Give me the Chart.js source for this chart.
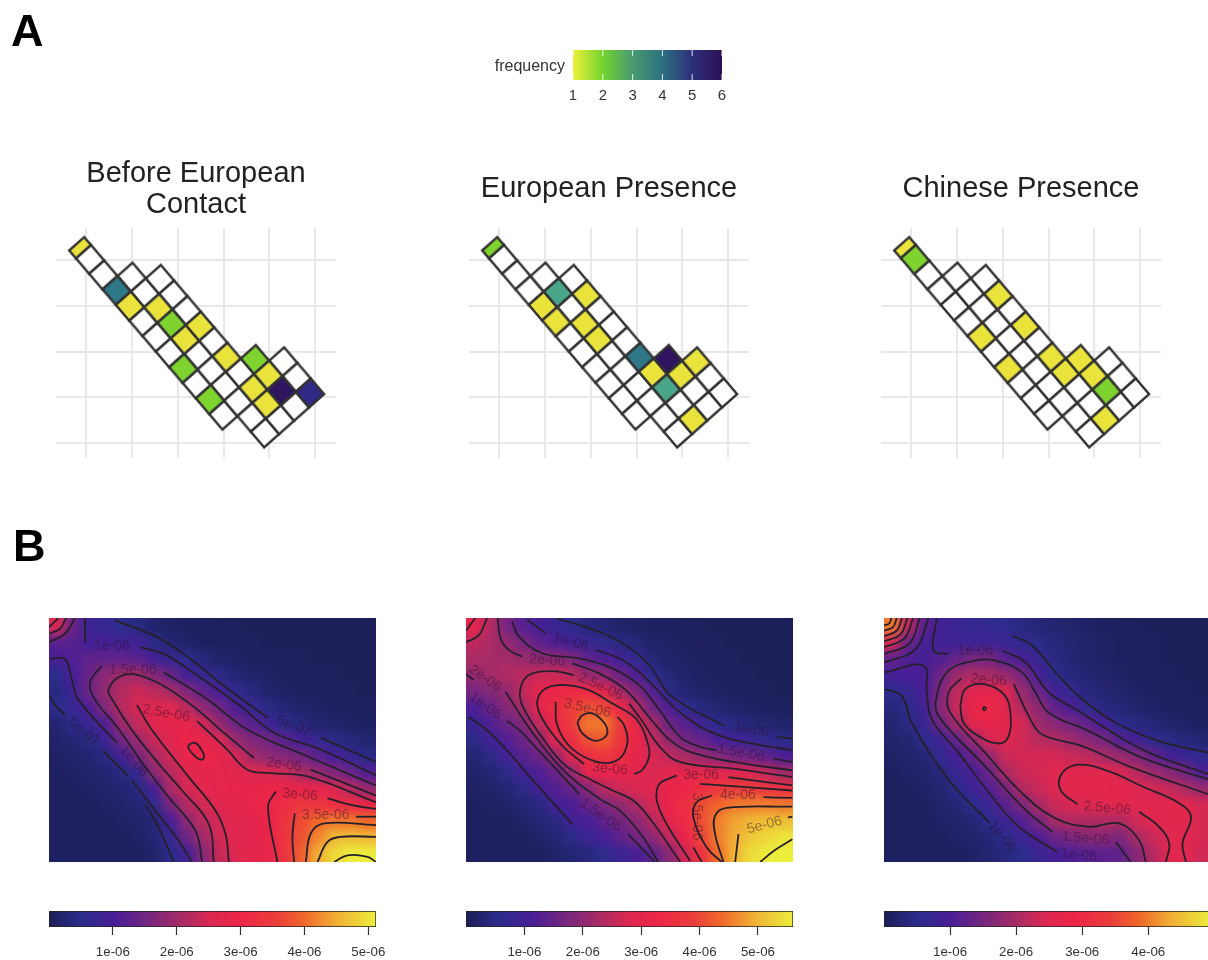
<!DOCTYPE html>
<html><head><meta charset="utf-8">
<script src="https://cdn.jsdelivr.net/npm/chart.js@4"></script>
<style>
html,body{margin:0;padding:0;background:#fff;width:1208px;height:960px;overflow:hidden}
canvas{position:absolute;display:block}
.soft{filter:blur(.5px)}
.letter{position:absolute;font:bold 45px "Liberation Sans";color:#000;line-height:45px;filter:blur(.4px)}
.heat{position:absolute;overflow:hidden;width:327px;height:244px;outline:1px solid #222;outline-offset:-1px}
</style></head><body>
<div class="letter" style="left:11px;top:8px">A</div>
<div class="letter" style="left:13px;top:523px">B</div>
<script>
// ---------- Panel A data ----------
const gridXTicks=[0,1,2,3,4,5];
const gridYTicks=[0,1,2,3,4];
const panelTitles=[["Before European","Contact"],"European Presence","Chinese Presence"];
const bandIndex=[0,1,2,3,4];
const bandStart=[-1,2,3,9,10];
const bandEnd=[10,12,12,12,12];
const freqTicks=[1,2,3,4,5,6];
const freqBefore=[[-1,0,1],[2,0,4],[3,0,1],[4,1,1],[5,1,2],[6,1,1],[6,2,1],[8,2,1],[7,0,2],[9,0,2],[9,3,2],[10,3,1],[10,2,1],[11,2,1],[11,3,6],[12,4,5]];
const freqEuropean=[[-1,0,2],[3,1,3],[4,2,1],[3,0,1],[4,0,1],[5,1,1],[6,1,1],[8,2,4],[9,3,6],[10,4,1],[9,2,1],[10,3,1],[10,2,3],[12,2,1]];
const freqChinese=[[-1,0,1],[0,0,2],[4,2,1],[6,2,1],[5,0,1],[7,0,1],[8,2,1],[9,2,1],[9,3,1],[10,3,1],[11,3,2],[12,2,1]];
// ---------- Panel B data (density, units of 1e-7) ----------
const heatBefore=[
[26,14,8,7,5,4,2,1.5,1,1,.8,.6,.5,.5,.5,.5,.5,.5,.5,.5],
[12,12,9.5,9.5,9,9,4.5,3,2,1,1,.8,.6,.5,.5,.5,.5,.5,.5,.5],
[10,11,13,13,13,12,9.5,7,5,3.5,2,1.5,1,1,.8,.6,.5,.5,.5,.5],
[5,10,14,18,20,20,17,14,9.5,7,4.5,3,2,1.5,1,1,.8,.6,.5,.5],
[4,8.5,14.5,18.5,22,24,22.5,20.5,16.5,13,10,6,4,2,1.5,1,1,.8,.6,.5],
[5,7,11,17,22,25,26,26,22.5,18,14.5,10.5,7,4.5,3,2,1.5,1,1,.8],
[2.5,5,7.5,11,19.5,23,26.5,28,28,24.5,18.5,14.5,12,8.5,5,3.5,2.5,2,1.5,1],
[2,3,4,8,15,19.5,23.5,26.5,29.5,28,25.5,19,16.5,15,12,9,6.5,4.5,3.5,2.5],
[1.5,2,2.5,4.5,9,15.5,20.5,24.5,29,29.5,28,25,20,18,17,15.5,12.5,10,7.5,4.5],
[1,1.5,2,2.5,4,7,18,22,26,27.5,28,27,25.5,25.5,24,21,19,16.5,14,11],
[1,1,1.5,2,2.5,4,10,21,24.5,27,28,28.5,28.5,29,29,28.5,27.5,25.5,22.5,19],
[1,1,1,1.5,2,3,6,15.5,21.5,24.5,26.5,27.5,28.5,30,32,34,33.5,32,31.5,29],
[1,1,1,1,1.5,2,3,10,18,22.5,25,26.5,27.5,29,33,37,40,41,41,40],
[1,1,1,1,1,1.5,3,6.5,14.5,20,24.5,26.5,27.5,29,33,37.5,42,46,46.5,46],
[1,1,1,1,1,1,2,5,9,17,23.5,26,27.5,28.5,33,39,45,49,51,51]];
const heatEuropean=[
[31,24,17,13,10.5,8,6,4,3,2,1.5,1,1,.8,.6,.5,.5,.5,.5,.5],
[25,23,20.5,17.5,14,12,10,8,6,4.5,3.5,2,1.5,1,.8,.6,.5,.5,.5,.5],
[23,22.5,22,21,20,19.5,18,14,12,10,6.5,3.5,2,1.5,1,.8,.6,.5,.5,.5],
[20.5,22,23.5,24.5,26,26,24.5,21,20,15.5,12,5.5,3.5,2,1.5,1,.8,.6,.5,.5],
[17,18.5,20,25,30,32,34,34,29,23,18,12.5,5,3,2,1.5,1,.8,.6,.5],
[11.5,15,19,22,30,35,39,41,40,33,24,16,12,6,4,3,2,1.5,1,.8],
[8.5,12,15.5,18,25,33,38,45,45,38,30,23,15.5,13,9,5.5,4.5,3.5,3,2],
[5,9.5,12,15.5,19.5,29,35,41,42,37,32,25.5,20,16.5,14.5,11.5,10,8.5,6.5,5],
[3,5,10,13,15.5,20,29.5,35,37,35,30,27.5,25,23,20.5,18.5,16.5,15.5,14,11.5],
[2,3,5,10,12,15,20,30,31,31,30,27.5,29.5,30,30,30,28.5,27.5,25.5,22],
[1.5,2,3,5,10,12.5,15,18.5,24,26.5,27.5,29,31,33,35,37.5,38.5,38.5,36.5,35.5],
[1,1.5,2,3,4.5,10,11.5,15,17.5,20,23.5,27,32,35,41,43.5,45,45.5,45.5,45],
[1,1,1,2,3,4.5,10,11,14,16.5,19,24,30,34,41,45.5,48.5,50,51,51],
[1,1,1,1,2,3,5,8.5,11,14,16.5,19.5,25,32,40,45.5,49,52,53.5,55],
[1,1,1,1,1,2,3,4,6,8.5,11,14,19,27,36,44,50,54,56,56]];
const heatChinese=[
[40,22,12,9,7.5,6.5,6,5.5,4,3,2.5,2,1.5,1,.8,.6,.5,.5,.5,.5],
[24,14,9,8.5,8,8,8.5,7,6,4.5,3.5,2.5,2,1.5,1,.8,.6,.5,.5,.5],
[13,10.5,9.5,11,13,15,15,11.5,10,6.5,4,3,2,1.5,1,.8,.6,.5,.5,.5],
[9,10,10,14,19,20.5,20,18.5,15,9.5,5,3.5,2.5,2,1.5,1,.8,.6,.5,.5],
[5.5,6.5,10,15.5,22,25.5,26.5,25,18.5,14,9,6.5,3.5,2.5,2,1.5,1,.8,.6,.5],
[3.5,4.5,9,16.5,23,28,29.5,25.5,20.5,17.5,12.5,10,6,4,3,2,1.5,1,1,.8],
[2.5,4,7.5,14,19.5,26,27.5,26.5,24,19,17,15,12.5,9.5,5,4,3,2,1.5,1],
[2,2.5,5,8,13,18,24,25,23.5,21.5,21,19,17,15.5,11,9,5.5,4.5,3.5,2.5],
[1.5,2,3,6.5,9.5,13,18,23,24,24,24,23,22,20,18.5,16.5,13,9.5,7.5,5.5],
[1,1.5,2,3.5,7,10,13.5,20.5,23,24,25,25.5,26,26,24.5,21.5,19,17,15,10.5],
[1,1,1.5,2.5,4.5,8,11,15,21,23,24.5,26,27,27,26.5,25,24,22.5,20.5,18.5],
[1,1,1,2,3,5,7.5,12,15.5,20,23,24,24.5,25,26,25.5,26,26,26,24],
[1,1,1,1.5,2,3,5,8,11,15,20,21,20.5,21,20.5,23.5,25,26,26,24],
[1,1,1,1,1.5,2,3,5,7.5,10.5,13.5,15.5,16.5,17,15.5,20,23,25,25.5,24],
[1,1,1,1,1,1.5,2.5,3.5,5,7,9.5,10.5,11.5,12,12.5,16.5,21,26,25,23.5]];
const contoursBefore=[
[225,35,350,85,450,150,550,230,680,325],[840,385,920,420,1005,457],[30,260,45,287,75,317],[190,425,263,497],[315,582,355,652,400,755],
[135,28,135,100],[300,115,370,135,450,185,600,290,700,370,840,420,1005,497],[30,150,75,150,95,210,115,272,230,400],[275,512,345,602,415,692,455,755],
[185,170,150,220,165,272,230,352,315,472,385,562,465,662,485,755],[370,190,500,270,620,360,800,440,1005,527],
[640,445,550,370,450,285,340,215,255,197,205,240,220,277,275,362,355,462,425,542,505,642,520,755],[810,480,1005,557],
[470,335,560,420,620,480,690,490,800,500,1005,577],[290,287,335,362,445,502,525,602,555,672,565,755],
[445,405,465,400,488,430,488,448,470,445,445,418,445,405],
[705,545,682,590,710,755],[860,565,930,585,1005,597],[762,610,755,680,760,755],[945,620,1005,620],
[795,755,810,670,850,640,1005,645],[830,755,860,695,900,680,1005,680],[880,755,920,735,980,740,1005,755],
[27,55,55,28],[27,75,60,60,78,28],[27,100,75,75,105,28]];
const contoursEuropean=[
[300,30,395,58,495,103,575,168,640,260,800,350],[957,382,1003,387],[210,33,265,73],[415,123,495,153,555,198,680,320,790,380,900,405,1003,422],
[165,38,185,83,255,133,365,148,465,178,545,228,595,288,667,382,727,412,777,422],[947,447,1003,457],
[122,28,130,88,155,123,195,143],[345,163,425,193,505,243,587,338,637,392,697,427,827,457,1003,482],
[350,198,285,186,215,198,190,238,195,288,265,398,325,468,395,507,465,542,527,572,582,632,652,732,668,755],
[515,283,552,332,607,412,667,457,827,477,1003,502],
[530,493,555,480,575,438,570,398,550,348,525,318,465,283,395,243,325,228,265,238,240,278,255,328,315,408,380,463],
[295,278,300,348,345,418,425,458,485,448,510,398,500,348,480,323],[360,340,375,318,405,312,440,340,450,370,432,390,405,392,372,368,360,340],
[27,195,50,212],[145,248,225,368,325,488,427,567,487,602,557,682,602,755],[150,335,190,365,225,402,365,552],[512,672,592,755],[35,323,85,358,155,428,215,498,345,642],
[1003,527,812,502],[657,497,602,527,607,602,697,752],[1003,542,727,522],[707,712,732,755],
[917,562,1003,564],[762,557,717,577,707,622,747,712,792,755],[1003,590,807,594,772,617,772,672,797,755],[842,672,832,755],[990,622,1003,620],[1003,687,950,720,907,755],
[27,65,55,28],[27,100,65,80,90,28]];
const contoursChinese=[
[30,240,80,260,110,340,220,510,345,640],[410,80,470,110,540,190,620,270,720,340,850,395,1008,432],
[30,190,145,170,155,250,170,330,250,430,350,560,430,650,545,725],[185,28,175,125,220,135],[380,125,450,160,520,250,600,300,800,420,1008,497],
[1008,512,800,445,640,365,520,310,480,250,440,190,360,155,300,155,220,185,185,260,190,320,330,470,450,600,530,665],[720,695,765,755],
[258,208,220,250,225,310,330,430,440,550,540,625,640,650,730,640,790,690,810,755],[415,225,465,330,500,375,620,410,760,470,1008,557],
[255,290,270,240,325,225,385,255,405,310,400,380,370,402,310,380,265,340,255,290],[322,298,327,293,332,298,327,303,322,298],
[605,583,555,540,560,490,610,465,700,485,800,530,910,580,945,620,920,700,930,755],[790,605,850,650,880,700,870,755],
[27,50,43,44,49,28],[27,66,54,55,65,28],[27,82,65,66,81,28],[27,98,76,77,97,28],[27,115,88,89,114,28],[27,135,103,104,134,28],[27,160,120,122,160,28]];
const labelsBefore=[["1e-06",215,112,0],["1.5e-06",278,182,0],["2.5e-06",378,312,10],["2e-06",730,465,8],["3e-06",778,555,5],["3.5e-06",855,615,0],["5e-07",130,368,40],["1e-06",280,455,50],["5e-07",760,350,20]];
const labelsEuropean=[["1e-06",340,100,15],["2e-06",270,155,5],["2.5e-06",430,232,25],["3.5e-06",390,297,12],["3e-06",458,478,5],["2e-06",85,208,35],["1e-06",85,290,35],["1.5e-06",430,615,35],["3e-06",730,495,0],["1.5e-06",850,430,10],["1e-06",880,360,10],["4e-06",840,555,0],["5e-06",920,645,-15],["3.5e-06",717,620,90]];
const labelsChinese=[["1e-06",300,128,0],["2e-06",340,213,5],["2.5e-06",695,595,5],["1.5e-06",630,685,5],["1e-06",610,735,5],["1e-06",380,680,50]];
const barTicksBefore=[1e-6,2e-6,3e-6,4e-6,5e-6];
const barTicksEuropean=[1e-6,2e-6,3e-6,4e-6,5e-6];
const barTicksChinese=[1e-6,2e-6,3e-6,4e-6];
const barMax=[5.12e-6,5.6e-6,4.95e-6];

// ---------- styling helpers ----------
Chart.defaults.font.family='"Liberation Sans"';
Chart.defaults.animation=false;
const heatStops=[[0,[27,30,85]],[.1,[44,44,140]],[.2,[72,30,150]],[.3,[116,38,128]],[.4,[164,43,102]],[.5,[222,40,80]],[.58,[236,36,72]],[.7,[234,63,58]],[.78,[240,104,42]],[.88,[240,176,53]],[1,[236,238,60]]];
function heatColor(f){f=Math.max(0,Math.min(1,f));for(let i=1;i<heatStops.length;i++){if(f<=heatStops[i][0]){const a=heatStops[i-1],b=heatStops[i],t=(f-a[0])/(b[0]-a[0]);return 'rgb('+a[1].map((c,n)=>Math.round(c+(b[1][n]-c)*t)).join(',')+')';}}return 'rgb(236,238,60)';}
const freqColors=['#ffffff','#e9e33c','#7fd32f','#4aa68a','#2f7888','#2e2a85','#2f1560'];
const root=document.body;
function addCanvas(l,t,w,h,cls,parent){const c=document.createElement('canvas');c.width=Math.round(w);c.height=Math.round(h);c.style.cssText=`left:${l}px;top:${t}px;width:${Math.round(w)}px;height:${Math.round(h)}px`;if(cls)c.className=cls;(parent||root).appendChild(c);return c;}
const U=[13.33,15.57],V=[15,-13.3];
const cache={};
function cellImage(f,strip){const key=f+(strip?'s':'');if(cache[key])return cache[key];const c=document.createElement('canvas');c.width=c.height=44;const g=c.getContext('2d');g.translate(22,22);const uh=strip?.25:.5;g.beginPath();[[-uh,-.5],[-uh,.5],[uh,.5],[uh,-.5]].forEach((p,i)=>{const x=p[0]*U[0]+p[1]*V[0],y=p[0]*U[1]+p[1]*V[1];i?g.lineTo(x,y):g.moveTo(x,y);});g.closePath();g.fillStyle=freqColors[f];g.fill();g.lineWidth=2.4;g.strokeStyle='#333';g.lineJoin='miter';g.stroke();cache[key]=c;return c;}
// cell index -> map coordinates
const O=[.077,4.02],uStep=[.2917,-.3407],vStep=[.328,.291];
function cellPoints(list){const lookup={};list.forEach(c=>lookup[c[0]+','+c[1]]=c[2]);const pts=[];
 bandIndex.forEach(j=>{for(let k=bandStart[j];k<=bandEnd[j];k++){const f=lookup[k+','+j]||0,kk=k<0?-.75:k;pts.push({x:O[0]+kk*uStep[0]+j*vStep[0],y:O[1]+kk*uStep[1]+j*vStep[1],f,strip:k<0});}});
 return pts.sort((a,b)=>(a.f>0)-(b.f>0));}
function tileChart(i,left,list){const two=Array.isArray(panelTitles[i]);
 new Chart(addCanvas(left,150,280,308,'soft'),{type:'scatter',data:{datasets:[{data:cellPoints(list),pointRadius:10,pointStyle:c=>c.raw?cellImage(c.raw.f,c.raw.strip):'circle',clip:false}]},
 options:{responsive:false,events:[],layout:{padding:0,autoPadding:false},plugins:{legend:{display:false},tooltip:{enabled:false},
 title:{display:true,text:panelTitles[i],color:'#222',font:{size:29,weight:'normal',lineHeight:1.07},padding:two?{top:8,bottom:8}:{top:23.5,bottom:23.5}}},
 scales:{x:{type:'linear',min:-.667,max:5.46,afterBuildTicks:s=>{s.ticks=gridXTicks.map(v=>({value:v}))},ticks:{display:false},grid:{color:'#e8e8e8',lineWidth:2,drawTicks:false},border:{display:false}},
 y:{type:'linear',min:-.328,max:4.705,afterBuildTicks:s=>{s.ticks=gridYTicks.map(v=>({value:v}))},ticks:{display:false},grid:{color:'#e8e8e8',lineWidth:2,drawTicks:false},border:{display:false}}}}});}
tileChart(0,56,freqBefore);tileChart(1,469,freqEuropean);tileChart(2,881,freqChinese);

// legend
const whiteTicks={id:'whiteTicks',afterDatasetsDraw(ch){const g=ch.ctx,a=ch.chartArea,s=ch.scales.x;g.save();g.strokeStyle='rgba(255,255,255,.85)';g.lineWidth=1;s.ticks.forEach(t=>{const x=s.getPixelForValue(t.value);g.beginPath();g.moveTo(x,a.top);g.lineTo(x,a.top+6);g.moveTo(x,a.bottom-6);g.lineTo(x,a.bottom);g.stroke();});g.restore();}};
new Chart(addCanvas(480,44,260,66,'soft'),{type:'bar',plugins:[whiteTicks],data:{labels:['frequency'],datasets:[{data:[[1,6]],barPercentage:1,categoryPercentage:1,
 backgroundColor:c=>{const a=c.chart.chartArea;if(!a)return '#888';const g=c.chart.ctx.createLinearGradient(a.left,0,a.right,0);['#eef03a','#72d42e','#4a9a70','#2d6f80','#2d2f7a','#2c0f55'].forEach((col,i)=>g.addColorStop(i/5,col));return g;}}]},
 options:{indexAxis:'y',responsive:false,events:[],layout:{padding:{top:6,right:18},autoPadding:false},plugins:{legend:{display:false},tooltip:{enabled:false}},
 scales:{x:{type:'linear',min:1,max:6,afterBuildTicks:s=>{s.ticks=freqTicks.map(v=>({value:v}))},afterFit:s=>{s.height=30},grid:{display:false,drawTicks:false},border:{display:false},ticks:{padding:7,color:'#333',font:{size:15},maxRotation:0}},
 y:{type:'category',afterFit:s=>{s.width=93;s.paddingTop=0;s.paddingBottom=0},grid:{display:false,drawTicks:false},border:{display:false},ticks:{padding:8,color:'#333',labelOffset:2,font:{size:16}}}}}});

// heatmaps with contour overlay
function heatPanel(left,matrix,maxV,contours,labels){
 const wrap=document.createElement('div');wrap.className='heat';wrap.style.left=left+'px';wrap.style.top='618px';root.appendChild(wrap);
 const pts=[],R=matrix.length,C=matrix[0].length;
 for(let r=-2;r<R+2;r++)for(let c=-2;c<C+2;c++){const v=matrix[Math.max(0,Math.min(R-1,r))][Math.max(0,Math.min(C-1,c))];pts.push({x:c,y:r,v});}
 const hc=addCanvas(-32.7,-32.5,392.4,309,null,wrap);hc.style.filter='blur(5px)';
 new Chart(hc,{type:'scatter',data:{datasets:[{data:pts,pointStyle:'rect',pointRadius:12.2,borderWidth:0,pointBorderWidth:0,pointBackgroundColor:c=>c.raw?heatColor(c.raw.v/maxV):'#000'}]},
 options:{responsive:false,events:[],layout:{padding:0,autoPadding:false},plugins:{legend:{display:false},tooltip:{enabled:false}},scales:{x:{display:false,type:'linear',min:-2.5,max:21.5},y:{display:false,type:'linear',reverse:true,min:-2.5,max:16.5}}}});
 const labelPlugin={id:'contourLabels',afterDatasetsDraw(ch){const g=ch.ctx;g.save();g.font='14px "Liberation Sans"';g.textAlign='center';g.textBaseline='middle';g.fillStyle='rgba(45,15,45,.45)';labels.forEach(l=>{g.save();g.translate(ch.scales.x.getPixelForValue(l[1]),ch.scales.y.getPixelForValue(l[2]));g.rotate(l[3]*Math.PI/180);g.fillText(l[0],0,0);g.restore();});g.restore();}};
 const cc=addCanvas(0,0,327,244,'soft',wrap);
 new Chart(cc,{type:'scatter',plugins:[labelPlugin],data:{datasets:contours.map(line=>{const d=[];for(let i=0;i<line.length;i+=2)d.push({x:line[i],y:line[i+1]});return{data:d,showLine:true,pointRadius:0,borderColor:'#25202c',borderWidth:1.8,tension:.4,fill:false};})},
 options:{responsive:false,events:[],layout:{padding:0,autoPadding:false},plugins:{legend:{display:false},tooltip:{enabled:false}},scales:{x:{display:false,type:'linear',min:27,max:1005},y:{display:false,type:'linear',reverse:true,min:28,max:755}}}});
}
heatPanel(48.5,heatBefore,51.2,contoursBefore,labelsBefore);
heatPanel(466,heatEuropean,56,contoursEuropean,labelsEuropean);
heatPanel(884,heatChinese,49.5,contoursChinese,labelsChinese);

// colour bars
function colorBar(left,maxV,ticks){
 new Chart(addCanvas(left-20,905,367,60,'soft'),{type:'bar',data:{labels:['density'],datasets:[{data:[[0,maxV]],barPercentage:1,categoryPercentage:1,borderWidth:1,borderColor:'#222',borderSkipped:false,
  backgroundColor:c=>{const a=c.chart.chartArea;if(!a)return '#888';const g=c.chart.ctx.createLinearGradient(a.left,0,a.right,0);heatStops.forEach(s=>g.addColorStop(s[0],heatColor(s[0])));return g;}}]},
 options:{indexAxis:'y',responsive:false,events:[],layout:{padding:{left:20,right:20,top:6},autoPadding:false},plugins:{legend:{display:false},tooltip:{enabled:false}},
 scales:{y:{display:false},x:{type:'linear',min:0,max:maxV,afterBuildTicks:s=>{s.ticks=ticks.map(v=>({value:v}))},afterFit:s=>{s.height=38},border:{display:false},
  grid:{drawOnChartArea:false,drawTicks:true,tickLength:8,tickColor:'#333',tickWidth:1.2},
  ticks:{padding:9,color:'#333',font:{size:13.3},maxRotation:0,autoSkip:false,callback:v=>v.toExponential(0).replace('e-6','e-06')}}}}});
}
colorBar(48.5,barMax[0],barTicksBefore);colorBar(466,barMax[1],barTicksEuropean);colorBar(884,barMax[2],barTicksChinese);
</script></body></html>
